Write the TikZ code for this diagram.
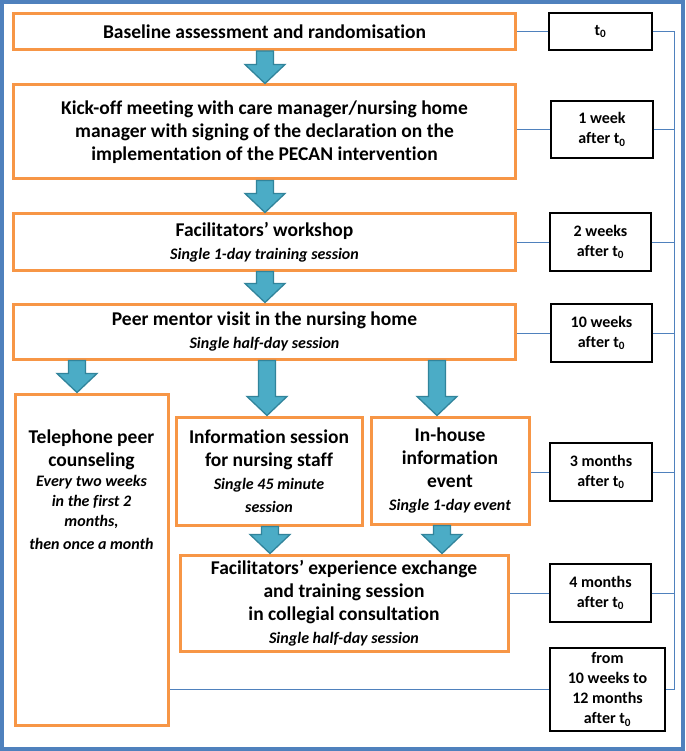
\documentclass[tikz,border=0pt]{standalone}
\usepackage{fontspec}
\setmainfont{Carlito}[Ligatures=NoCommon]
\usetikzlibrary{calc}
\definecolor{obord}{HTML}{F79646}
\definecolor{afill}{HTML}{4BACC6}
\definecolor{aline}{HTML}{31849B}
\definecolor{bline}{HTML}{4F81BD}
\tikzset{
  obox/.style={draw=obord, line width=3pt, fill=white, align=center, inner sep=0pt,
    font=\fontsize{19.5}{23}\selectfont\bfseries},
  tbox/.style={draw=black, line width=1.3pt, fill=white, align=center, inner sep=0pt,
    font=\fontsize{16}{20}\selectfont\bfseries},
  blk/.style={fill=afill, draw=aline, line width=1.3pt, line join=miter},
  conn/.style={draw=bline, line width=0.9pt},
}
\newcommand{\subt}[1]{{\fontsize{16}{20}\selectfont\bfseries\itshape #1}}
% block arrow: #1 x position (pt), #2 from node, #3 to node
\newcommand{\blkarrow}[3]{%
  \path[blk] let \p1=(#2.south), \p2=(#3.north) in
    (#1pt-8.5pt,\y1) -- (#1pt+8.5pt,\y1) -- (#1pt+8.5pt,\y2+19pt) -- (#1pt+20pt,\y2+19pt)
    -- (#1pt,\y2) -- (#1pt-20pt,\y2+19pt) -- (#1pt-8.5pt,\y2+19pt) -- cycle;}
\begin{document}
\begin{tikzpicture}[x=1pt,y=-1pt]
\useasboundingbox (0,0) rectangle (685,751);
\fill[white] (0,0) rectangle (685,751);
\draw[bline, line width=4pt] (2,2) rectangle (683,749);

% main boxes
\node[obox, minimum width=502pt, minimum height=36pt] (b1) at (264.5,31.5)
  {Baseline assessment and randomisation};
\node[obox, minimum width=502pt, minimum height=94pt] (b2) at (264.5,132)
  {Kick-off meeting with care manager/nursing home\\ manager with signing of the declaration on the\\ implementation of the PECAN intervention};
\node[obox, minimum width=502pt, minimum height=56pt] (b3) at (264.5,242)
  {Facilitators’ workshop\\ \subt{Single 1-day training session}};
\node[obox, minimum width=502pt, minimum height=55pt] (b4) at (264.5,331.5)
  {Peer mentor visit in the nursing home\\ \subt{Single half-day session}};
\node[obox, minimum width=153pt, minimum height=331pt] (tel) at (91.5,559.5)
  {\parbox[c][331pt][t]{152pt}{\centering\vspace*{36pt}Telephone peer\\ counseling\\
   \subt{Every two weeks\\ in the first 2\\ months,\\ then once a month}}};
\node[obox, minimum width=186pt, minimum height=108pt] (info) at (269,471)
  {Information session\\ for nursing staff\\ \subt{Single 45 minute}\\ \subt{session}};
\node[obox, minimum width=158pt, minimum height=107pt] (inh) at (450,470.5)
  {In-house\\ information\\ event\\ \subt{Single 1-day event}};
\node[obox, minimum width=328pt, minimum height=96pt] (fx) at (344,603)
  {Facilitators’ experience exchange\\ and training session\\ in collegial consultation\\ \subt{Single half-day session}};

% timing boxes
\node[tbox, minimum width=103pt, minimum height=37pt] (t0) at (600.5,31.5) {t\textsubscript{0}};
\node[tbox, minimum width=102pt, minimum height=57pt] (w1) at (602,129.5) {1 week\\ after t\textsubscript{0}};
\node[tbox, minimum width=101pt, minimum height=58pt] (w2) at (600.5,242) {2 weeks\\ after t\textsubscript{0}};
\node[tbox, minimum width=101pt, minimum height=58pt] (w10) at (601.5,333) {10 weeks\\ after t\textsubscript{0}};
\node[tbox, minimum width=102pt, minimum height=58pt] (m3) at (601,472) {3 months\\ after t\textsubscript{0}};
\node[tbox, minimum width=101pt, minimum height=58pt] (m4) at (600.5,593) {4 months\\ after t\textsubscript{0}};
\node[tbox, minimum width=115pt, minimum height=83pt] (fr) at (607.5,689.5) {from\\ 10 weeks to\\ 12 months\\ after t\textsubscript{0}};

% thin connectors
\coordinate (vl) at (674.5,0);
\draw[conn] (t0.west) -- (t0.west -| b1.east);
\draw[conn] (w1.west) -- (w1.west -| b2.east);
\draw[conn] (w2.west) -- (w2.west -| b3.east);
\draw[conn] (w10.west) -- (w10.west -| b4.east);
\draw[conn] (m3.west) -- (m3.west -| inh.east);
\draw[conn] (m4.west) -- (m4.west -| fx.east);
\draw[conn] (fr.west) -- (fr.west -| tel.east);
\draw[conn] (t0.east) -- (t0.east -| vl) -- (fr.east -| vl) -- (fr.east);
\foreach \n in {w1,w2,w10,m3,m4} \draw[conn] (\n.east) -- (\n.east -| vl);

% block arrows
\blkarrow{265}{b1}{b2}
\blkarrow{265}{b2}{b3}
\blkarrow{265}{b3}{b4}
\blkarrow{77}{b4}{tel}
\blkarrow{267}{b4}{info}
\blkarrow{437}{b4}{inh}
\blkarrow{270}{info}{fx}
\blkarrow{442}{inh}{fx}
\end{tikzpicture}
\end{document}
